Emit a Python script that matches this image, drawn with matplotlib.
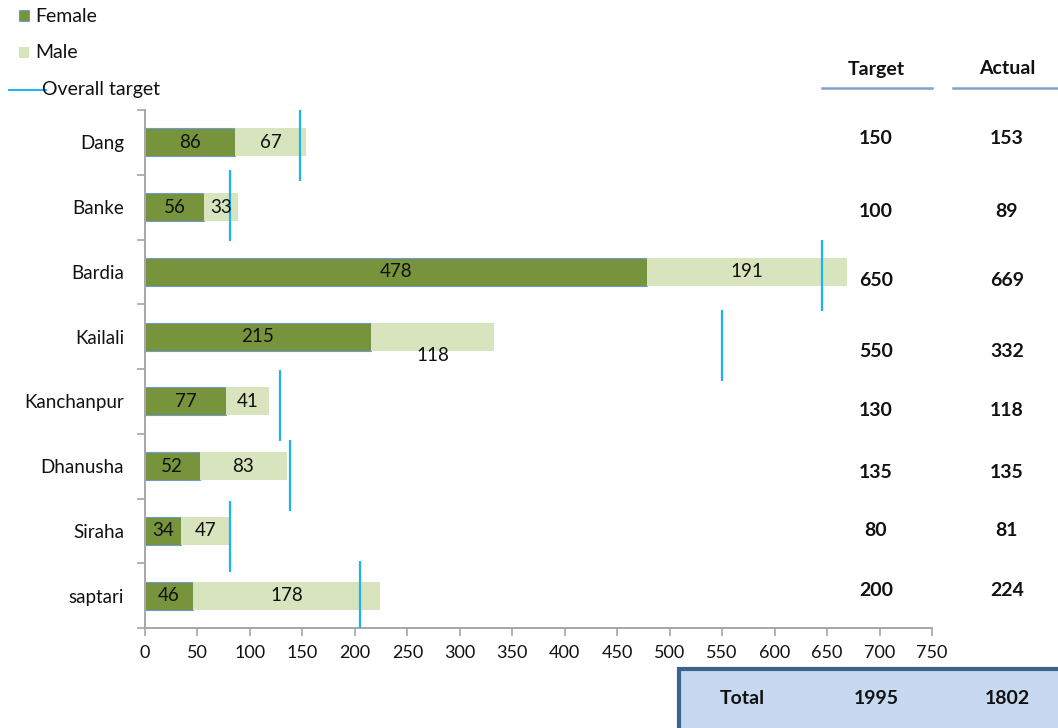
import matplotlib
matplotlib.use("Agg")
import matplotlib.pyplot as plt
from matplotlib.patches import Rectangle
from matplotlib.lines import Line2D

# District enrolment by sex, with per-district targets
districts = ["Dang", "Banke", "Bardia", "Kailali", "Kanchanpur", "Dhanusha", "Siraha", "saptari"]
female = [86, 56, 478, 215, 77, 52, 34, 46]
male = [67, 33, 191, 118, 41, 83, 47, 178]
# Where the "Overall target" marker sits on the value axis, and its row position
target_marker = [148, 81, 645, 550, 129, 138, 81, 205]
target_marker_row = [0.05, 0.97, 2.06, 3.14, 4.06, 5.15, 6.09, 7.01]
# Side table
target_col = ["150", "100", "650", "550", "130", "135", "80", "200"]
actual_col = ["153", "89", "669", "332", "118", "135", "81", "224"]
total_target = "1995"
total_actual = "1802"
xticks = list(range(0, 751, 50))

FONT = "Lato"
plt.rcParams["font.family"] = [FONT, "DejaVu Sans"]

W, H = 1058, 728
fig = plt.figure(figsize=(W / 100, H / 100), dpi=100)
fig.patch.set_facecolor("white")


def fx(px):
    return px / W


def fy(py):
    return 1 - py / H


ax = fig.add_axes([fx(145), fy(628), fx(932) - fx(145), fy(110) - fy(628)])

FEMALE_C = "#77933C"
MALE_C = "#D7E4BD"
TARGET_C = "#1CB4EE"
AXIS_C = "#A6A6A6"
TXT = "#111111"
LBL = 13.5
BOLD = 14

rows = list(range(len(districts)))
bh = 0.43
ax.barh(rows, female, height=bh, color=FEMALE_C, edgecolor="#6F9AD2", linewidth=0.8, zorder=2)
ax.barh(rows, male, left=female, height=bh, color=MALE_C, edgecolor="none", zorder=2)

for i in rows:
    ax.text(female[i] / 2, i, str(female[i]), ha="center", va="center", fontsize=LBL, color=TXT, zorder=4)
    dy = 0.29 if districts[i] == "Kailali" else 0.0
    ax.text(female[i] + male[i] / 2, i + dy, str(male[i]), ha="center", va="center", fontsize=LBL, color=TXT, zorder=4)

for xv, yv in zip(target_marker, target_marker_row):
    ax.vlines(xv, yv - 0.55, yv + 0.55, color=TARGET_C, linewidth=1.6, zorder=3)

ax.set_xlim(0, 750)
ax.set_ylim(len(districts) - 0.5, -0.5)
ax.set_xticks(xticks)
ax.set_xticklabels([str(v) for v in xticks], fontsize=13, color=TXT)
ax.set_yticks(rows)
ax.set_yticklabels(districts, fontsize=LBL, color=TXT)
ax.set_yticks([r - 0.5 for r in rows] + [len(districts) - 0.5], minor=True)
ax.tick_params(axis="y", which="major", length=0, pad=15)
ax.tick_params(axis="y", which="minor", length=6, color=AXIS_C, width=1.2)
ax.tick_params(axis="x", which="major", length=6, color=AXIS_C, width=1.2, pad=6)
for s in ("top", "right"):
    ax.spines[s].set_visible(False)
for s in ("left", "bottom"):
    ax.spines[s].set_color(AXIS_C)
    ax.spines[s].set_linewidth(1.4)

# Legend
fig.patches.append(Rectangle((fx(19), fy(21)), fx(10), fy(10) - fy(21), transform=fig.transFigure,
                             facecolor=FEMALE_C, edgecolor="#6F9AD2", linewidth=0.8))
fig.text(fx(35), fy(16), "Female", fontsize=BOLD, va="center", ha="left", color=TXT)
fig.patches.append(Rectangle((fx(19), fy(58)), fx(10), fy(47) - fy(58), transform=fig.transFigure,
                             facecolor=MALE_C, edgecolor="none"))
fig.text(fx(35), fy(53), "Male", fontsize=BOLD, va="center", ha="left", color=TXT)
fig.lines.append(Line2D([fx(9), fx(46)], [fy(90), fy(90)], transform=fig.transFigure,
                        color=TARGET_C, linewidth=1.4))
fig.text(fx(42), fy(90), "Overall target", fontsize=BOLD, va="center", ha="left", color=TXT)

# Side table
TCOL, ACOL = 876, 1007
fig.text(fx(TCOL), fy(69), "Target", fontsize=BOLD, fontweight="bold", ha="center", va="center", color=TXT)
fig.text(fx(ACOL), fy(69), "Actual", fontsize=BOLD, fontweight="bold", ha="center", va="center", color=TXT)
for x0, x1 in ((822, 932), (953, 1058)):
    fig.lines.append(Line2D([fx(x0), fx(x1)], [fy(88), fy(88)], transform=fig.transFigure,
                            color="#7EA3CF", linewidth=1.8))
row_y = [139, 211, 281, 351, 411, 472, 531, 591]
for yy, t, a in zip(row_y, target_col, actual_col):
    fig.text(fx(TCOL), fy(yy), t, fontsize=BOLD, fontweight="bold", ha="center", va="center", color=TXT)
    fig.text(fx(ACOL), fy(yy), a, fontsize=BOLD, fontweight="bold", ha="center", va="center", color=TXT)

# Totals box
fig.patches.append(Rectangle((fx(679), fy(740)), fx(1070) - fx(679), fy(669) - fy(740),
                             transform=fig.transFigure, facecolor="#C6D9F1",
                             edgecolor="#3F618D", linewidth=3))
fig.text(fx(742), fy(699), "Total", fontsize=BOLD, fontweight="bold", ha="center", va="center", color=TXT)
fig.text(fx(TCOL), fy(699), total_target, fontsize=BOLD, fontweight="bold", ha="center", va="center", color=TXT)
fig.text(fx(ACOL), fy(699), total_actual, fontsize=BOLD, fontweight="bold", ha="center", va="center", color=TXT)

fig.savefig("out.png", dpi=100, facecolor="white")
